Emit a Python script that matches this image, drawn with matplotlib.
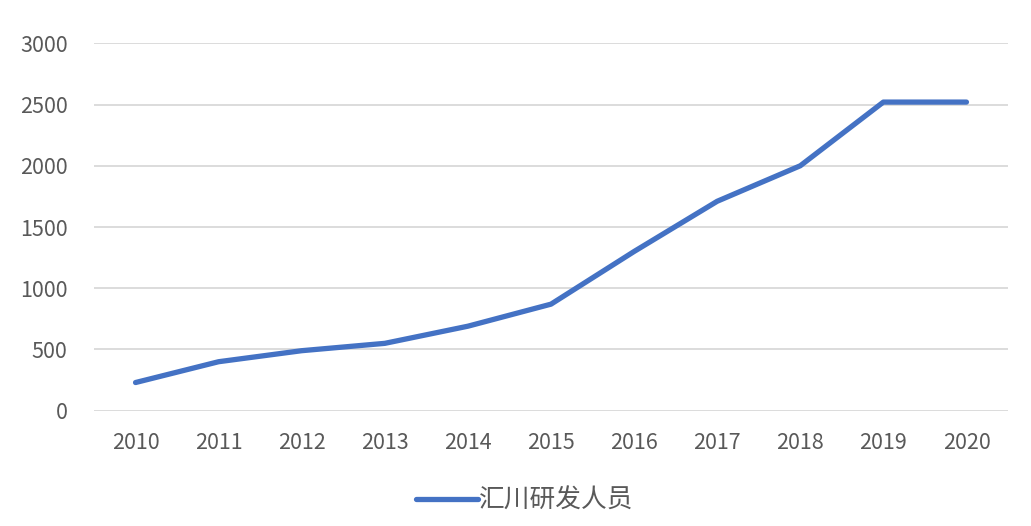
import numpy as np
import matplotlib.pyplot as plt

plt.rcParams['font.family'] = ['Noto Sans CJK SC', 'DejaVu Sans']

# data
years = ["2010", "2011", "2012", "2013", "2014", "2015",
         "2016", "2017", "2018", "2019", "2020"]
staff = [230, 400, 490, 550, 690, 870, 1300, 1710, 2000, 2520, 2520]
series_name = "汇川研发人员"
y_ticks = [0, 500, 1000, 1500, 2000, 2500, 3000]

blue = '#4472C4'
grey_text = '#595959'
grid_col = '#D9D9D9'

fig = plt.figure(figsize=(10.31, 5.26), dpi=100)
ax = fig.add_axes([94 / 1031, 1 - 410.7 / 526, (1008 - 94) / 1031, (410.7 - 43.3) / 526])

x = np.arange(len(years))
line, = ax.plot(x, staff, color=blue, linewidth=3.8,
                solid_capstyle='round', solid_joinstyle='round',
                label=series_name, zorder=3)

ax.set_xlim(-0.5, len(years) - 0.5)
ax.set_ylim(0, 3000)
ax.set_xticks(x)
ax.set_xticklabels(years)
ax.set_yticks(y_ticks)
ax.yaxis.grid(True, color=grid_col, linewidth=1.3)
ax.set_axisbelow(True)
for s in ax.spines.values():
    s.set_visible(False)
ax.tick_params(axis='both', length=0, labelsize=15.5, colors=grey_text)
ax.tick_params(axis='y', pad=19)
ax.tick_params(axis='x', pad=15)

fig.legend(handles=[line], loc='center',
           bbox_to_anchor=(525 / 1031, 1 - 501 / 526),
           frameon=False, fontsize=18.5, handlelength=2.4,
           handletextpad=0.05, labelcolor=grey_text)

fig.savefig('out.png', dpi=100)
